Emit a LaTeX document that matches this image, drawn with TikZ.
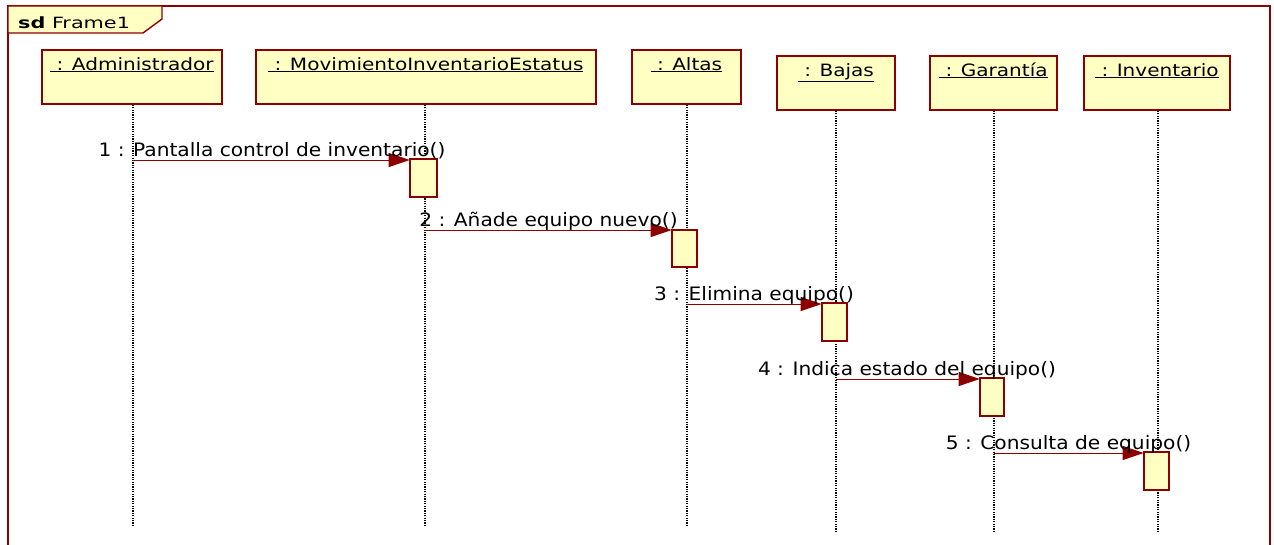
\documentclass[tikz,border=0pt]{standalone}
\usepackage{fontspec}
\setmainfont{DejaVu Sans}
\newfontfamily\headfont[FakeStretch=1.18]{DejaVu Sans}
\newfontfamily\msgfont[FakeStretch=1.09]{DejaVu Sans}
\newfontfamily\titlefont[FakeStretch=1.34]{DejaVu Sans}
\usetikzlibrary{arrows.meta}
\definecolor{umlred}{HTML}{8B0000}
\definecolor{umlfill}{HTML}{FFFFC4}
\tikzset{
  head/.style={draw=umlred, fill=umlfill, line width=1.8pt, anchor=north west, inner sep=0pt},
  headtext/.style={anchor=base, font=\headfont\fontsize{17}{20}\selectfont, inner sep=0pt},
  act/.style={draw=umlred, fill=umlfill, line width=1.6pt, inner sep=0pt, minimum width=25pt, minimum height=37pt, anchor=north},
  life/.style={black, line width=1.8pt, dash pattern=on 1.2pt off 1.2pt},
  msg/.style={umlred, line width=1pt, -{Triangle[length=21pt,width=14pt]}, shorten >=-0.5pt},
  msgtext/.style={font=\msgfont\fontsize{18.5}{21}\selectfont, inner sep=0pt, anchor=base},
}
\begin{document}
\begin{tikzpicture}[x=1pt,y=-1pt]
\useasboundingbox (0,0) rectangle (1274,544);
% frame
\draw[umlred, line width=1.8pt] (8,550) -- (8,6) -- (1270,6) -- (1270,550);
\draw[umlred, fill=umlfill, line width=1.4pt] (8,6) -- (162,6) -- (162,19) -- (143,33) -- (8,33) -- cycle;
\node[anchor=base west, inner sep=0pt, font=\titlefont\fontsize{15.5}{18}\selectfont] (frametitle) at (18,28.5) {\textbf{sd} Frame1};

% lifeline heads
\node[head, minimum width=180pt, minimum height=54pt] (hadm) at (41,49) {};
\node[head, minimum width=340pt, minimum height=54pt] (hmov) at (255,49) {};
\node[head, minimum width=109pt, minimum height=54pt] (halt) at (631,49) {};
\node[head, minimum width=118pt, minimum height=54pt] (hbaj) at (776,55) {};
\node[head, minimum width=127pt, minimum height=54pt] (hgar) at (929,55) {};
\node[head, minimum width=146pt, minimum height=54pt] (hinv) at (1083,55) {};

\node[headtext] (tadm) at ([yshift=-21pt]hadm.north) {\underline{\ : Administrador}};
\node[headtext] (tmov) at ([yshift=-21pt]hmov.north) {\underline{\ : MovimientoInventarioEstatus}};
\node[headtext] (talt) at ([yshift=-21pt]halt.north) {\underline{\ : Altas}};
\node[headtext] (tbaj) at ([yshift=-21pt]hbaj.north) {\underline{\ : Bajas}};
\node[headtext] (tgar) at ([yshift=-21pt]hgar.north) {\underline{\ : Garantía}};
\node[headtext] (tinv) at ([yshift=-21pt]hinv.north) {\underline{\ : Inventario}};

% lifeline ends
\coordinate (eadm) at (133,527);
\coordinate (emov) at (425,527);
\coordinate (ealt) at (687,527);
\coordinate (ebaj) at (836,533);
\coordinate (egar) at (994,533);
\coordinate (einv) at (1158,533);

\draw[life] (hadm.south -| eadm) -- (eadm);
\draw[life] (hmov.south -| emov) -- (emov);
\draw[life] (halt.south -| ealt) -- (ealt);
\draw[life] (hbaj.south -| ebaj) -- (ebaj);
\draw[life] (hgar.south -| egar) -- (egar);
\draw[life] (hinv.south -| einv) -- (einv);

% activation bars
\node[act, minimum width=27pt, minimum height=38pt] (a1) at (423.5,158) {};
\node[act, minimum height=37pt] (a2) at (684.5,229) {};
\node[act, minimum height=38pt] (a3) at (834.5,302) {};
\node[act, minimum width=24pt, minimum height=38pt] (a4) at (992,377) {};
\node[act, minimum height=38pt] (a5) at (1156.5,451) {};

% message starts on the caller lifelines
\coordinate (s1) at (133,160);
\coordinate (s2) at (425,230);
\coordinate (s3) at (687,304);
\coordinate (s4) at (836,379);
\coordinate (s5) at (994,453);

\draw[msg] (s1) -- (s1 -| a1.west);
\draw[msg] (s2) -- (s2 -| a2.west);
\draw[msg] (s3) -- (s3 -| a3.west);
\draw[msg] (s4) -- (s4 -| a4.west);
\draw[msg] (s5) -- (s5 -| a5.west);

\node[msgtext] (l1) at (272,156) {1 : Pantalla control de inventario()};
\node[msgtext] (l2) at (548.5,226) {2 : Añade equipo nuevo()};
\node[msgtext] (l3) at (754,300) {3 : Elimina equipo()};
\node[msgtext] (l4) at (907,375) {4 : Indica estado del equipo()};
\node[msgtext] (l5) at (1068.5,449) {5 : Consulta de equipo()};
\end{tikzpicture}
\end{document}
